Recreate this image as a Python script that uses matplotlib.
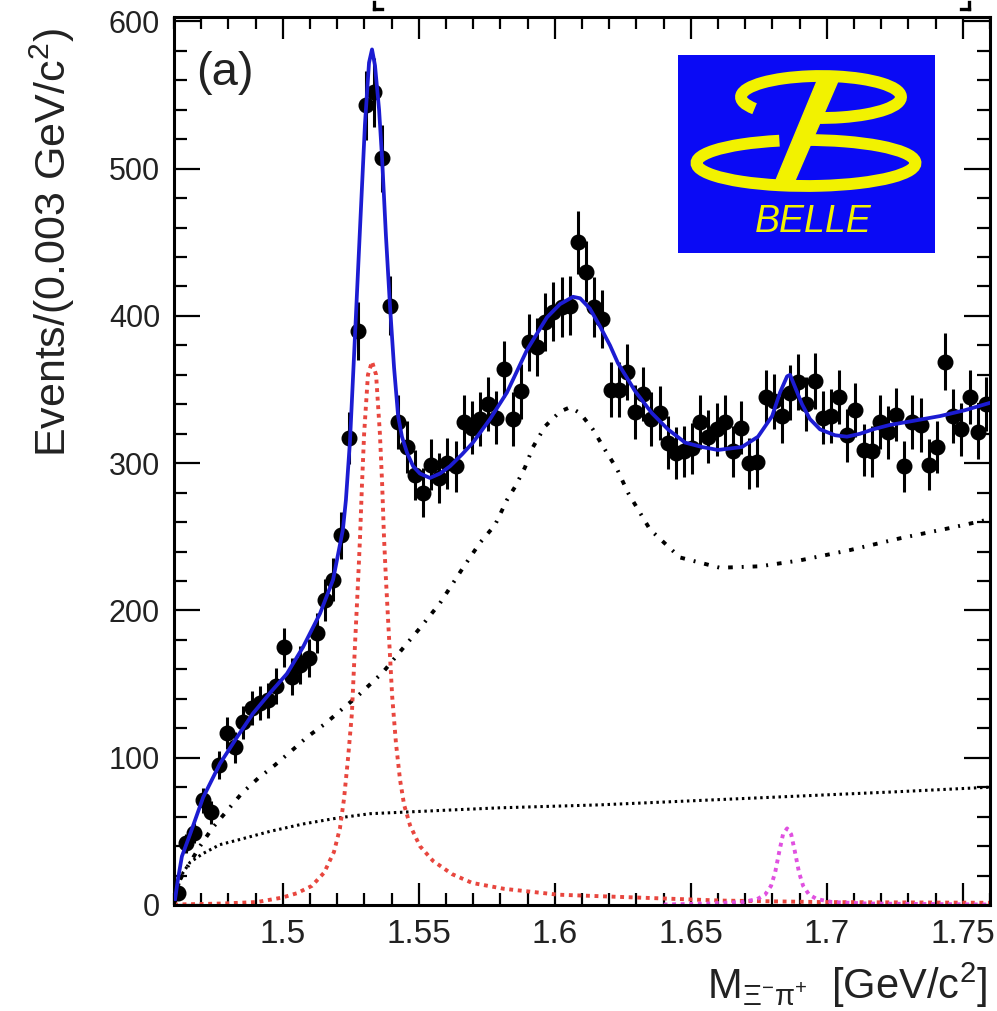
import numpy as np
import matplotlib
matplotlib.use("Agg")
import matplotlib.pyplot as plt
from matplotlib import font_manager
from matplotlib.patches import Arc, Polygon
from matplotlib.lines import Line2D
from matplotlib.ticker import MultipleLocator, FuncFormatter

# Xi- pi+ invariant mass, 100 bins of 3 MeV between 1.46 and 1.76 GeV
bin_lo = 1.46
bin_w = 0.003
counts = [8, 42, 49, 71, 63, 95, 117, 107, 124, 134,
          137, 139, 149, 175, 155, 163, 168, 185, 207, 221,
          251, 317, 390, 543, 552, 507, 407, 328, 311, 292,
          280, 299, 290, 300, 298, 328, 324, 330, 340, 331,
          364, 330, 349, 382, 379, 396, 403, 406, 407, 450,
          430, 406, 398, 350, 350, 362, 335, 347, 330, 334,
          314, 307, 308, 310, 328, 318, 323, 328, 308, 324,
          300, 301, 345, 342, 332, 348, 355, 340, 356, 331,
          332, 345, 319, 336, 309, 308, 328, 321, 333, 298,
          328, 326, 299, 311, 369, 332, 323, 345, 321, 340]

# total fit
fit_m = [1.4604, 1.4615, 1.4629, 1.4659, 1.4707, 1.4769, 1.4832, 1.4890, 1.4953, 1.5015,
         1.5074, 1.5137, 1.5185, 1.5221, 1.5232, 1.5247, 1.5265, 1.5284, 1.5302, 1.5317,
         1.5328, 1.5339, 1.5354, 1.5365, 1.5379, 1.5394, 1.5409, 1.5424, 1.5438, 1.5457,
         1.5479, 1.5504, 1.5541, 1.5578, 1.5615, 1.5659, 1.5699, 1.5762, 1.5824, 1.5898,
         1.5971, 1.6019, 1.6067, 1.6093, 1.6129, 1.6166, 1.6203, 1.6232, 1.6295, 1.6357,
         1.6416, 1.6479, 1.6541, 1.6600, 1.6688, 1.6747, 1.6799, 1.6828, 1.6854, 1.6865,
         1.6887, 1.6909, 1.6938, 1.6975, 1.7030, 1.7074, 1.7122, 1.7170, 1.7232, 1.7295,
         1.7416, 1.7508, 1.7600]
fit_y = [4, 18, 33, 48, 73, 96, 114, 130, 144, 157,
         175, 198, 221, 255, 275, 315, 385, 460, 530, 572,
         581, 570, 540, 507, 455, 407, 365, 332, 318, 307,
         298, 293, 290, 293, 298, 306, 314, 330, 348, 377,
         399, 408, 413, 412, 405, 393, 380, 368, 349, 334,
         323, 314, 311, 309, 311, 318, 332, 348, 359, 360,
         350, 340, 330, 323, 319, 318, 320, 323, 326, 328,
         332, 336, 341]

# Xi(1530) signal
xi1530_m = [1.4600, 1.4777, 1.4905, 1.4997, 1.5052, 1.5107, 1.5152, 1.5188, 1.5210, 1.5225,
            1.5240, 1.5254, 1.5265, 1.5277, 1.5284, 1.5291, 1.5299, 1.5313, 1.5328, 1.5343,
            1.5357, 1.5365, 1.5372, 1.5379, 1.5391, 1.5402, 1.5416, 1.5431, 1.5446, 1.5468,
            1.5504, 1.5552, 1.5622, 1.5696, 1.5813, 1.6012, 1.6313, 1.6614, 1.6982, 1.7600]
xi1530_y = [0.3, 1, 2, 5, 8, 13, 22, 36, 52, 72,
            100, 130, 175, 221, 250, 285, 320, 360, 369, 360,
            320, 287, 250, 222, 180, 142, 110, 85, 68, 54,
            40, 30, 21, 15, 11, 7, 5, 3, 2, 1.5]

# Xi(1690) signal
xi1690_m = [1.6400, 1.6560, 1.6689, 1.6744, 1.6773, 1.6795, 1.6810, 1.6825, 1.6839, 1.6854,
            1.6869, 1.6883, 1.6898, 1.6913, 1.6935, 1.6964, 1.7019, 1.7148, 1.7600]
xi1690_y = [0.3, 1, 2, 4, 7, 13, 22, 36, 48, 52,
            48, 36, 22, 13, 7, 4, 2, 1, 0.3]

# broad component (dash-dotted)
broad_m = [1.4604, 1.4611, 1.4633, 1.4696, 1.4740, 1.4795, 1.4850, 1.4909, 1.4971, 1.5034,
           1.5089, 1.5155, 1.5218, 1.5276, 1.5339, 1.5368, 1.5431, 1.5504, 1.5578, 1.5659,
           1.5725, 1.5780, 1.5824, 1.5854, 1.5890, 1.5920, 1.5964, 1.6019, 1.6056, 1.6093,
           1.6140, 1.6185, 1.6229, 1.6269, 1.6350, 1.6460, 1.6607, 1.6754, 1.6901, 1.7085,
           1.7269, 1.7453, 1.7600]
broad_y = [2, 13, 21, 40, 52, 64, 76, 86, 95, 105,
           114, 123, 133, 142, 153, 158, 172, 188, 205, 228,
           246, 258, 275, 284, 297, 311, 325, 335, 338, 334,
           323, 309, 296, 280, 255, 236, 229, 230, 234, 241,
           249, 256, 262]

# smooth background (dotted)
bkg_m = [1.4604, 1.4611, 1.4622, 1.4633, 1.4659, 1.4707, 1.4769, 1.4832, 1.4953, 1.5074,
         1.5199, 1.5321, 1.5615, 1.5799, 1.6166, 1.6534, 1.6901, 1.7269, 1.7600]
bkg_y = [1, 11, 16, 22, 29, 35, 41, 44, 50, 55,
         59, 62, 64.5, 66, 68, 71, 74, 77, 80]

names = {f.name for f in font_manager.fontManager.ttflist}
narrow = 'Liberation Sans Narrow' if 'Liberation Sans Narrow' in names else 'Liberation Sans'

plt.rcParams['font.family'] = ['Liberation Sans', 'DejaVu Sans']
plt.rcParams['mathtext.fontset'] = 'custom'
plt.rcParams['mathtext.rm'] = narrow
plt.rcParams['mathtext.it'] = narrow + ':italic'
plt.rcParams['mathtext.default'] = 'rm'

fig = plt.figure(figsize=(9.97, 10.11), dpi=100)
ax = fig.add_axes([174 / 997, 1 - 905 / 1011, 816 / 997, 888 / 1011])

centers = bin_lo + bin_w * (np.arange(len(counts)) + 0.5)
counts = np.array(counts, dtype=float)

ax.plot(bkg_m, bkg_y, color='black', lw=2.2, ls=(0, (0.8, 1.2)), zorder=2)
ax.plot(broad_m, broad_y, color='black', lw=2.8, ls=(0, (1.2, 2.3, 0.5, 2.3)), zorder=2)
ax.plot(xi1530_m, xi1530_y, color='#e8463e', lw=2.8, ls=(0, (1, 1.2)), zorder=2)
ax.plot(xi1690_m, xi1690_y, color='#e050e0', lw=2.8, ls=(0, (1, 1.2)), zorder=2)

ax.errorbar(centers, counts, yerr=np.sqrt(counts), fmt='o', color='black',
            ms=10.5, elinewidth=2.2, capsize=0, zorder=3)
ax.plot(fit_m, fit_y, color='#1c1cd2', lw=2.7, zorder=4)

ax.set_xlim(1.46, 1.76)
ax.set_ylim(0, 603)
ax.xaxis.set_major_locator(MultipleLocator(0.05))
ax.xaxis.set_minor_locator(MultipleLocator(0.01))
ax.yaxis.set_major_locator(MultipleLocator(100))
ax.yaxis.set_minor_locator(MultipleLocator(20))
ax.xaxis.set_major_formatter(FuncFormatter(lambda v, p: '%g' % round(v, 3)))
ax.tick_params(which='both', direction='in', top=True, right=True, width=1.6, colors='black')
ax.tick_params(axis='x', which='major', length=16, labelsize=24, pad=10, labelcolor='#222222')
ax.tick_params(axis='x', which='minor', length=8.5)
ax.tick_params(axis='y', which='major', length=19, labelsize=22, pad=10, labelcolor='#222222')
ax.tick_params(axis='y', which='minor', length=9.5)
for s in ax.spines.values():
    s.set_linewidth(2.2)

fig.text(52 / 997, 1 - 243 / 1011, r'Events/(0.003 GeV/c$^{2}$)', rotation=90,
         ha='center', va='center', fontsize=31, family=narrow, color='#222222')
fig.text(987 / 997, 1 - 985 / 1011, r'M$_{\Xi^{-}\pi^{+}}$  [GeV/c$^{2}$]',
         ha='right', va='center', fontsize=30, family=narrow, color='#222222')
ax.text(0.027, 0.962, '(a)', transform=ax.transAxes, fontsize=34, va='top', ha='left',
        color='#222222')

# bits of brackets from the line above the frame, in figure pixels
bracket_segments = [[(374, 2), (374, 9)], [(374, 9), (382, 9)],
                    [(969, 2), (969, 9)], [(961, 9), (969, 9)]]
for seg in bracket_segments:
    xs = [p[0] for p in seg]
    ys = [1011 - p[1] for p in seg]
    fig.add_artist(Line2D(xs, ys, color='black', lw=2.4, transform=None))

# Belle logo
logo = fig.add_axes([678 / 997, 1 - 253 / 1011, 257 / 997, 198 / 1011])
logo.set_xlim(0, 257)
logo.set_ylim(0, 198)
logo.set_facecolor('#0a0af5')
logo.set_xticks([])
logo.set_yticks([])
for s in logo.spines.values():
    s.set_visible(False)
yellow = '#f2f200'
logo.add_patch(Arc((143, 156), 160, 42, theta1=255, theta2=190, color=yellow, lw=8.5))
logo.add_patch(Arc((128, 90), 219, 46, theta1=140, theta2=95, color=yellow, lw=8.5))
logo.add_patch(Polygon([(142, 179), (163, 179), (115, 68), (96, 68)], closed=True, color=yellow))
logo.text(135, 31, 'BELLE', style='italic', color=yellow, fontsize=27,
          ha='center', va='center')

fig.savefig('out.png', dpi=100)
